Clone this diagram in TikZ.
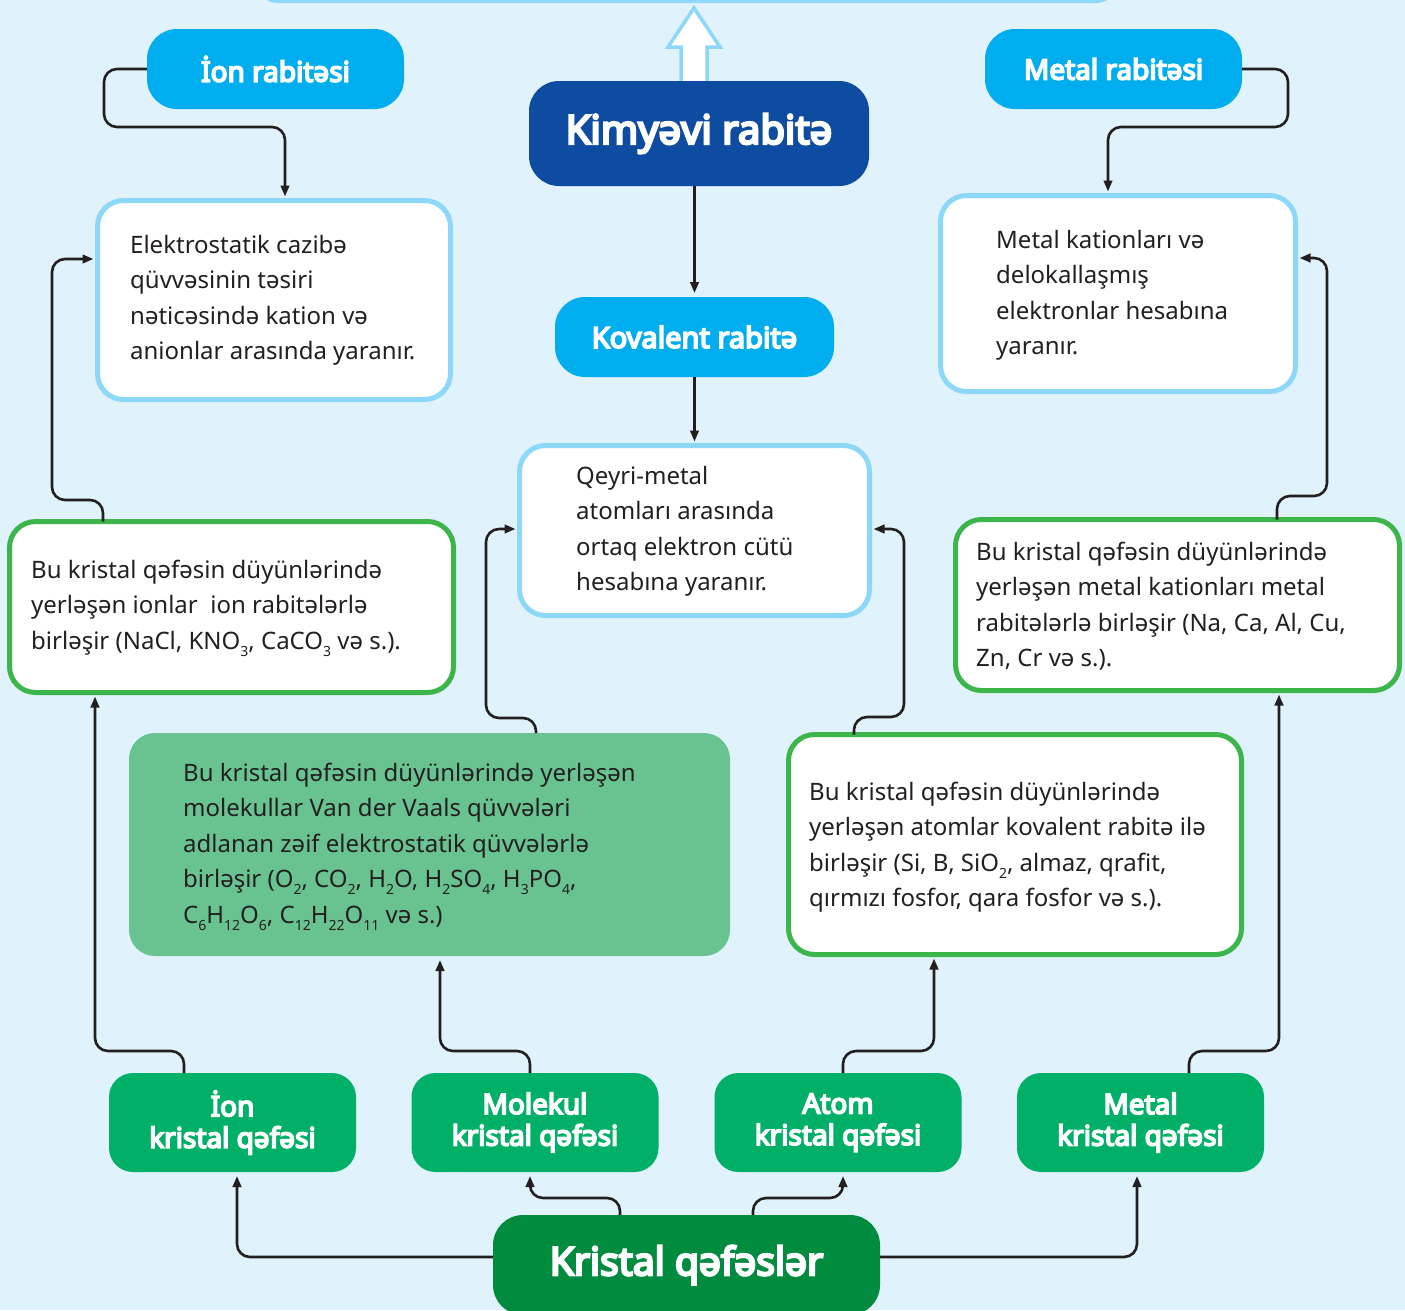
\documentclass[tikz,border=0pt]{standalone}
\usepackage{fontspec}
\setmainfont{Noto Sans}
% heavy face for the white headings
\newfontfamily\headfont{Noto Sans}[FakeBold=6]
\usetikzlibrary{arrows.meta}

\definecolor{bgblue}{HTML}{E0F2FC}
\definecolor{skyline}{HTML}{8DD8F8}
\definecolor{cyanbox}{HTML}{00AEEF}
\definecolor{navybox}{HTML}{0D4CA1}
\definecolor{grnline}{HTML}{3CB54A}
\definecolor{grnfill}{HTML}{69C390}
\definecolor{grnbtn}{HTML}{00B067}
\definecolor{grndark}{HTML}{008B3F}
\definecolor{ink}{HTML}{231F20}

% chemical index, set low and small
\newcommand\chemsub[1]{\raisebox{-0.3em}{\fontsize{14}{14}\selectfont #1}}

\begin{document}
\begin{tikzpicture}[x=1pt,y=-1pt,
  pill/.style={rectangle, inner sep=0pt, outer sep=0pt, text=white, align=center},
  topic/.style={pill, fill=cyanbox, rounded corners=30pt,
    font=\headfont\fontsize{28}{30}\selectfont},
  lattice/.style={pill, fill=grnbtn, rounded corners=24pt,
    minimum width=247pt, minimum height=99pt,
    font=\headfont\fontsize{28}{31.5}\selectfont},
  infobox/.style={rectangle, inner sep=0pt, outer sep=0pt, fill=white,
    draw=skyline, line width=5pt, rounded corners=26pt},
  factbox/.style={rectangle, inner sep=0pt, outer sep=0pt, fill=white,
    draw=grnline, line width=5pt, rounded corners=26pt},
  body/.style={font=\fontsize{24}{35.5}\selectfont, align=left,
    anchor=north west, inner sep=0pt, text=ink},
  conn/.style={draw=ink, line width=2.6pt, rounded corners=13pt,
    -{Triangle[length=11pt,width=8.5pt]}, shorten >=4pt}
]
\useasboundingbox (0,0) rectangle (1405,1310);
\fill[bgblue] (0,0) rectangle (1405,1310);

% frame at the upper edge and the hollow arrow leading to it
\draw[skyline, line width=4pt, fill=bgblue, rounded corners=20pt]
  (258,-60) rectangle (1116,1);
\draw[skyline, line width=3.5pt, fill=white, line join=miter]
  (681,90) -- (681,47) -- (668,47) -- (694,8) -- (720,47) -- (707,47) -- (707,90);

% bond types
\node[topic, minimum width=257pt, minimum height=80pt] (ionrab) at (275.5,69) {İon rabitəsi};
\node[topic, minimum width=257pt, minimum height=80pt] (metrab) at (1113.5,69) {Metal rabitəsi};
\node[pill, fill=navybox, rounded corners=30pt, minimum width=340pt, minimum height=105pt,
  font=\headfont\fontsize{40}{42}\selectfont] (kimya) at (699,133.5) {Kimyəvi rabitə};
\node[topic, minimum width=279pt, minimum height=80pt,
  font=\headfont\fontsize{29}{30}\selectfont] (koval) at (694.5,337) {Kovalent rabitə};

% explanations of the bonds
\node[infobox, minimum width=353pt, minimum height=199pt] (elek) at (274,300) {};
\node[infobox, minimum width=355pt, minimum height=196pt] (metkat) at (1118,293.5) {};
\node[infobox, minimum width=350pt, minimum height=170pt] (qeyri) at (694.5,530.5) {};

\node[body] (elektext) at (130,228) {\rule{0pt}{25pt}Elektrostatik cazibə\\
  qüvvəsinin təsiri\\nəticəsində kation və\\anionlar arasında yaranır.};
\node[body] (metkattext) at (996,223) {\rule{0pt}{25pt}Metal kationları və\\
  delokallaşmış\\elektronlar hesabına\\yaranır.};
\node[body] (qeyritext) at (576,459) {\rule{0pt}{25pt}Qeyri-metal\\
  atomları arasında\\ortaq elektron cütü\\hesabına yaranır.};

% descriptions of the lattices
\node[factbox, minimum width=444pt, minimum height=171pt] (iongr) at (231.5,607) {};
\node[factbox, minimum width=444pt, minimum height=171pt] (metgr) at (1177.5,605) {};
\node[rectangle, inner sep=0pt, outer sep=0pt, fill=grnfill, rounded corners=26pt,
  minimum width=601pt, minimum height=223pt] (molbox) at (429.5,844.5) {};
\node[factbox, minimum width=453pt, minimum height=220pt] (atombox) at (1015,844.5) {};

\node[body] (iontext) at (31,553) {\rule{0pt}{25pt}Bu kristal qəfəsin düyünlərində\\
  yerləşən ionlar\ \ ion rabitələrlə\\
  birləşir (NaCl, KNO\chemsub{3}, CaCO\chemsub{3} və s.).};
\node[body] (mettext) at (976,535) {\rule{0pt}{25pt}Bu kristal qəfəsin düyünlərində\\
  yerləşən metal kationları metal\\
  rabitələrlə birləşir (Na, Ca, Al, Cu,\\Zn, Cr və s.).};
\node[body] (moltext) at (183,756) {\rule{0pt}{25pt}Bu kristal qəfəsin düyünlərində yerləşən\\
  molekullar Van der Vaals qüvvələri\\
  adlanan zəif elektrostatik qüvvələrlə\\
  birləşir (O\chemsub{2}, CO\chemsub{2}, H\chemsub{2}O, H\chemsub{2}SO\chemsub{4}, H\chemsub{3}PO\chemsub{4},\\
  C\chemsub{6}H\chemsub{12}O\chemsub{6}, C\chemsub{12}H\chemsub{22}O\chemsub{11} və s.)};
\node[body] (atomtext) at (809,775) {\rule{0pt}{25pt}Bu kristal qəfəsin düyünlərində\\
  yerləşən atomlar kovalent rabitə ilə\\
  birləşir (Si, B, SiO\chemsub{2}, almaz, qrafit,\\
  qırmızı fosfor, qara fosfor və s.).};

% lattice types
\node[lattice] (b1) at (232.5,1122.5) {İon\\kristal qəfəsi};
\node[lattice] (b2) at (535,1122.5) {Molekul\\kristal qəfəsi};
\node[lattice] (b3) at (838,1122.5) {Atom\\kristal qəfəsi};
\node[lattice] (b4) at (1140.5,1122.5) {Metal\\kristal qəfəsi};
\node[pill, fill=grndark, rounded corners=30pt, minimum width=387pt, minimum height=100pt,
  font=\headfont\fontsize{39}{42}\selectfont] (kris) at (686.5,1265) {Kristal qəfəslər};

% connectors
\draw[conn] (ionrab.west) -- (104,69) -- (104,127) -- (285,127) -- ([xshift=11pt]elek.north);
\draw[conn] (metrab.east) -- (1288,69) -- (1288,127) -- (1108,127) -- ([xshift=-10pt]metkat.north);
\draw[conn] (kimya.south -| koval.north) -- (koval.north);
\draw[conn] (koval.south) -- (qeyri.north);

\draw[conn] ([xshift=-128.5pt]iongr.north) -- (103,500) -- (52,500) -- (52,259)
  -- ([yshift=41pt]elek.west);
\draw[conn] ([xshift=99.5pt]metgr.north) -- (1277,496) -- (1327,496) -- (1327,258)
  -- ([yshift=35.5pt]metkat.east);
\draw[conn] ([xshift=106.5pt]molbox.north) -- (536,718) -- (486,718) -- (486,529)
  -- ([yshift=1.5pt]qeyri.west);
\draw[conn] ([xshift=-161pt]atombox.north) -- (854,717) -- (904,717) -- (904,529)
  -- ([yshift=1.5pt]qeyri.east);

\draw[conn] ([xshift=-48.5pt]b1.north) -- (184,1051) -- (95,1051) -- ([xshift=-136.5pt]iongr.south);
\draw[conn] ([xshift=-5pt]b2.north) -- (530,1051) -- (440,1051) -- ([xshift=10.5pt]molbox.south);
\draw[conn] ([xshift=5pt]b3.north) -- (843,1051) -- (934,1051) -- ([xshift=-81pt]atombox.south);
\draw[conn] ([xshift=48.5pt]b4.north) -- (1189,1051) -- (1279,1051) -- ([xshift=101.5pt]metgr.south);

\draw[conn] ([yshift=8pt]kris.west) -- (237,1257) -- ([xshift=4.5pt]b1.south);
\draw[conn] ([xshift=-66.5pt]kris.north) -- (620,1198) -- (530,1198) -- ([xshift=-5pt]b2.south);
\draw[conn] ([xshift=66.5pt]kris.north) -- (753,1198) -- (843,1198) -- ([xshift=5pt]b3.south);
\draw[conn] ([yshift=8pt]kris.east) -- (1137,1257) -- ([xshift=-3.5pt]b4.south);
\end{tikzpicture}
\end{document}
